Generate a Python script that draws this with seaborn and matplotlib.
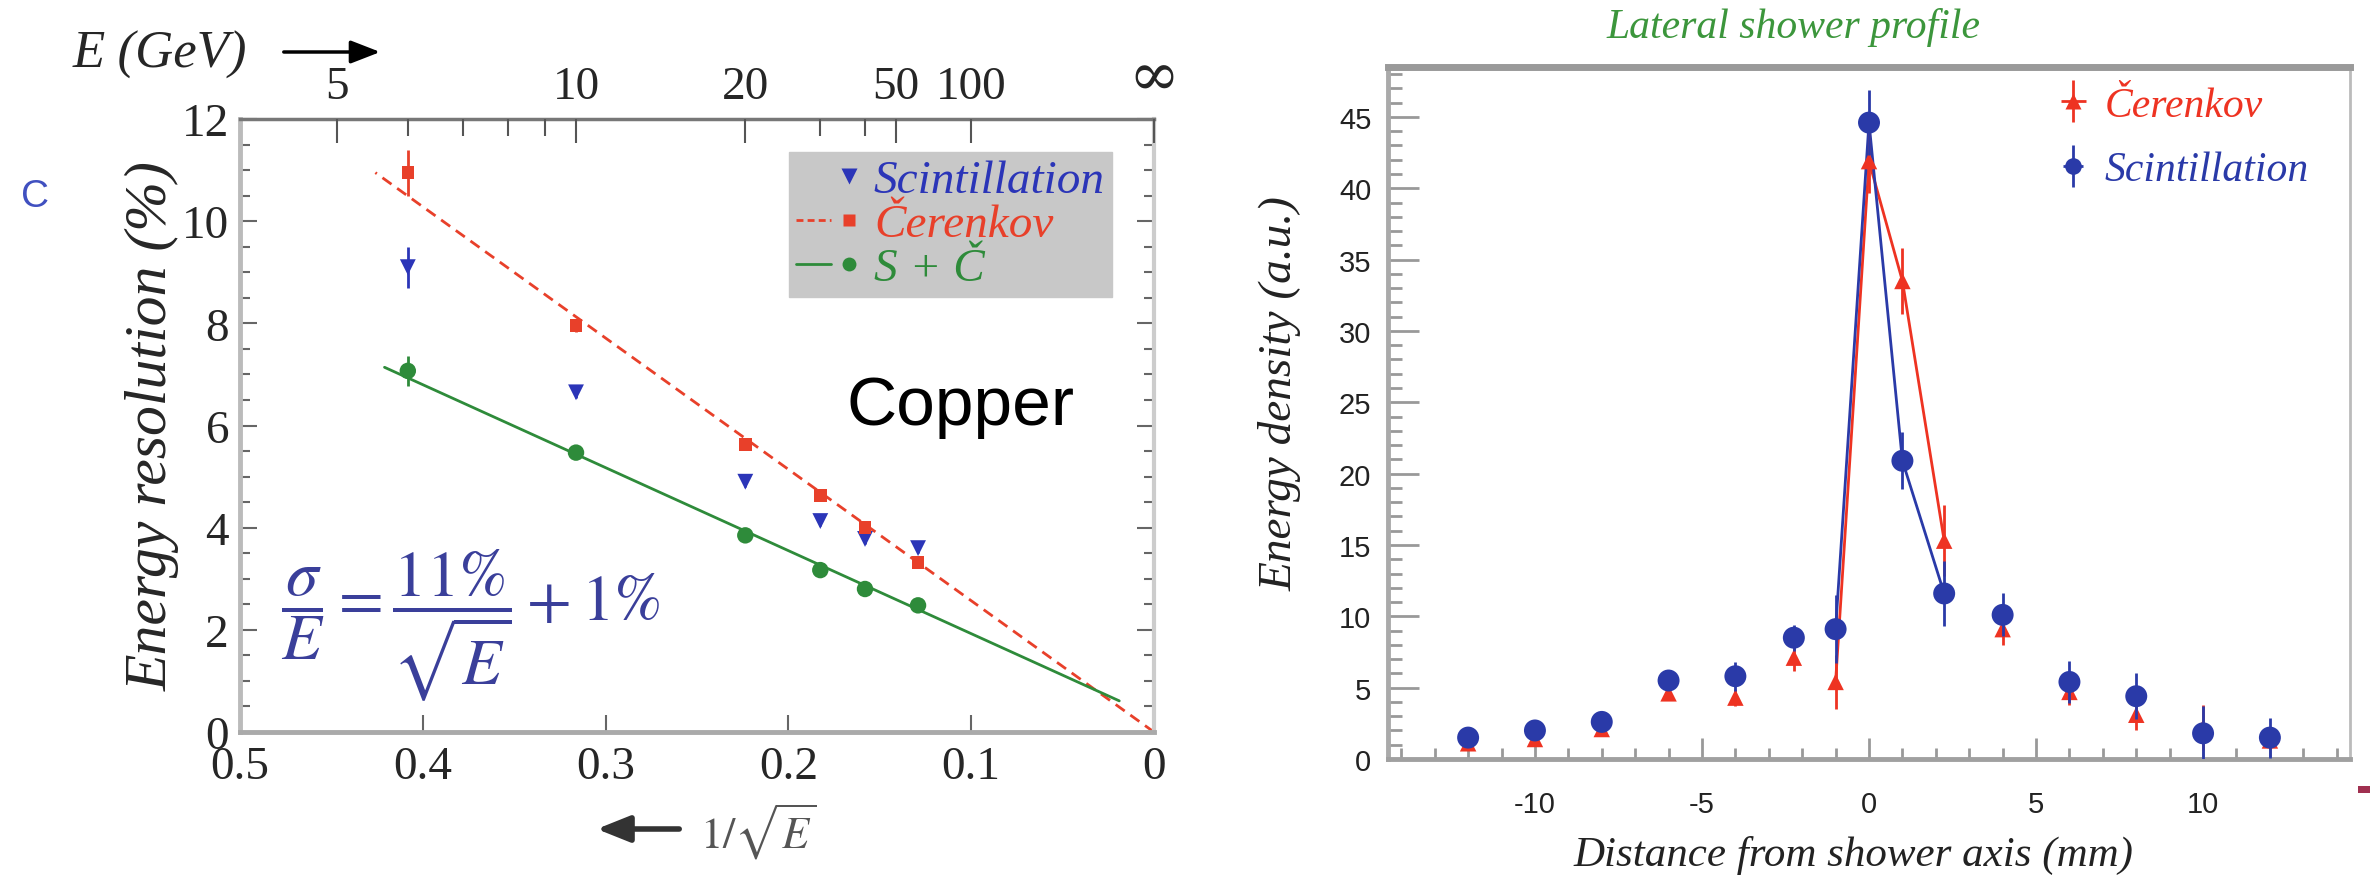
import numpy as np
import pandas as pd
import matplotlib
matplotlib.use("Agg")
import matplotlib.pyplot as plt
import seaborn as sns
from matplotlib.lines import Line2D
from matplotlib.legend_handler import HandlerTuple
from matplotlib.patches import FancyArrowPatch, Rectangle
from matplotlib.ticker import MultipleLocator, FixedLocator
from matplotlib.font_manager import FontProperties

# ---------------- energy resolution vs. beam energy (copper) ----------------
beam_energy = [6, 10, 20, 30, 40, 60]                 # GeV
scint_res = [9.1, 6.65, 4.9, 4.13, 3.78, 3.6]          # %
scint_err = [0.4, 0.12, 0.1, 0.1, 0.1, 0.1]
cer_res = [10.95, 7.96, 5.63, 4.63, 4.0, 3.32]
cer_err = [0.45, 0.12, 0.1, 0.1, 0.1, 0.1]
comb_res = [7.07, 5.47, 3.85, 3.17, 2.8, 2.48]
comb_err = [0.3, 0.1, 0.1, 0.1, 0.1, 0.1]

# straight-line fits versus 1/sqrt(E): end points
cer_fit_x = [0.426, 0.0]
cer_fit_y = [10.95, 0.0]
comb_fit_x = [0.421, 0.019]
comb_fit_y = [7.14, 0.61]

inv_sqrt_ticks = [0.5, 0.4, 0.3, 0.2, 0.1, 0.0]
inv_sqrt_labels = ["0.5", "0.4", "0.3", "0.2", "0.1", "0"]
top_energies = [5, 10, 20, 50, 100]
top_labels = ["5", "10", "20", "50", "100", "\u221e"]
top_minor_energies = [6, 7, 8, 9, 30, 40]

# ---------------- lateral shower profile ----------------
distance = [-12, -10, -8, -6, -4, -2.25, -1, 0, 1, 2.25, 4, 6, 8, 10, 12]   # mm
scint_density = [1.5, 2.0, 2.6, 5.5, 5.8, 8.5, 9.1, 44.6, 20.9, 11.6, 10.1, 5.4, 4.4, 1.8, 1.5]
scint_density_err = [0.5, 0.5, 0.5, 0.6, 1.0, 0.9, 2.4, 2.3, 2.0, 2.3, 1.5, 1.5, 1.6, 1.9, 1.4]
cer_density = [1.1, 1.4, 2.1, 4.6, 4.3, 7.1, 5.4, 41.9, 33.5, 15.3, 9.1, 4.7, 3.1, 2.2, 1.3]
cer_density_err = [0.4, 0.4, 0.4, 0.5, 0.6, 0.9, 1.9, 2.2, 2.3, 2.5, 1.1, 0.9, 1.1, 1.6, 0.6]
core_range = (-1, 2.25)   # points joined by a line around the shower axis

RED = "#e8402a"
BLUE = "#2b35b8"
GREEN = "#2e8b3a"
NAVY = "#3a3f9a"
RED2 = "#ee3322"
BLUE2 = "#2a3aa8"

sns.set_theme(style="white")
plt.rcParams["font.family"] = ["Liberation Serif", "DejaVu Serif", "DejaVu Sans"]
plt.rcParams["mathtext.fontset"] = "stix"
plt.rcParams["axes.unicode_minus"] = False

serif_it = dict(family=["Liberation Serif", "DejaVu Serif"], style="italic")

fig = plt.figure(figsize=(23.75, 8.78), dpi=100)
ax1 = fig.add_axes([0.1011, 0.1651, 0.3848, 0.6982])
ax2 = fig.add_axes([0.5844, 0.1344, 0.4051, 0.7882])

# ======================= left panel =======================
res = pd.DataFrame({
    "x": 1.0 / np.sqrt(np.array(beam_energy, dtype=float)),
    "scint": scint_res, "scint_err": scint_err,
    "cer": cer_res, "cer_err": cer_err,
    "comb": comb_res, "comb_err": comb_err,
})

sns.lineplot(x=cer_fit_x, y=cer_fit_y, ax=ax1, color=RED, lw=2, linestyle=(0, (4, 2.5)))
sns.lineplot(x=comb_fit_x, y=comb_fit_y, ax=ax1, color=GREEN, lw=2)

for col, color in (("scint", BLUE), ("cer", RED), ("comb", GREEN)):
    ax1.errorbar(res["x"], res[col], yerr=res[col + "_err"], fmt="none",
                 ecolor=color, elinewidth=2, capsize=0, zorder=3)
sns.scatterplot(data=res, x="x", y="scint", marker="v", s=130, color=BLUE,
                edgecolor="none", ax=ax1, zorder=4)
sns.scatterplot(data=res, x="x", y="cer", marker="s", s=80, color=RED,
                edgecolor="none", ax=ax1, zorder=4)
sns.scatterplot(data=res, x="x", y="comb", marker="o", s=140, color=GREEN,
                edgecolor="none", ax=ax1, zorder=4)

ax1.set_xlim(0.5, 0.0)
ax1.set_ylim(0, 12)
ax1.set_xlabel("")
ax1.set_ylabel("Energy resolution (%)", fontsize=43, **serif_it)
ax1.yaxis.set_label_coords(-0.066, 0.5)
ax1.xaxis.set_major_locator(FixedLocator(inv_sqrt_ticks))
ax1.set_xticklabels(inv_sqrt_labels)
ax1.yaxis.set_major_locator(MultipleLocator(2))
ax1.yaxis.set_minor_locator(MultipleLocator(0.5))
ax1.tick_params(which="both", direction="in", left=True, right=True, bottom=True, top=False,
                color="#666666", width=1.5, labelsize=34)
ax1.tick_params(axis="y", which="major", length=12, pad=8)
ax1.tick_params(axis="y", which="minor", length=7)
ax1.tick_params(axis="x", which="major", length=12, pad=10)
for side, (c, w) in {"left": ("#bbbbbb", 3.5), "bottom": ("#aaaaaa", 3.5),
                     "top": ("#777777", 2.5), "right": ("#cccccc", 3)}.items():
    ax1.spines[side].set_color(c)
    ax1.spines[side].set_linewidth(w)
    ax1.spines[side].set_visible(True)

# top axis in beam energy
ax_top = ax1.twiny()
ax_top.set_xlim(ax1.get_xlim())
top_pos = list(1.0 / np.sqrt(np.array(top_energies, dtype=float))) + [0.0]
ax_top.xaxis.set_major_locator(FixedLocator(top_pos))
ax_top.set_xticklabels(top_labels)
ax_top.xaxis.set_minor_locator(FixedLocator(1.0 / np.sqrt(np.array(top_minor_energies, dtype=float))))
ax_top.tick_params(axis="x", which="both", direction="in", top=True, bottom=False,
                   color="#555555", width=1.5, labelsize=34, pad=8)
ax_top.tick_params(axis="x", which="major", length=17)
ax_top.tick_params(axis="x", which="minor", length=12)
for lab in ax_top.get_xticklabels():
    if lab.get_text() == "\u221e":
        lab.set_fontsize(44)
        lab.set_family(["DejaVu Serif", "DejaVu Sans"])
for side in ax_top.spines:
    ax_top.spines[side].set_visible(False)

# legend in a grey box
h_scint = (Line2D([], [], ls="none"),
           Line2D([], [], ls="none", marker="v", ms=11, color=BLUE, mec="none"))
h_cer = (Line2D([], [], ls=(0, (2.5, 1.5)), lw=2, color=RED),
         Line2D([], [], ls="none", marker="s", ms=8, color=RED, mec="none"))
h_comb = (Line2D([], [], ls="-", lw=2, color=GREEN),
          Line2D([], [], ls="none", marker="o", ms=10, color=GREEN, mec="none"))
ax1.legend([h_scint, h_cer, h_comb], ["Scintillation", "\u010cerenkov", "S + \u010c"],
           handler_map={tuple: HandlerTuple(ndivide=None, pad=0)},
           loc="upper right", bbox_to_anchor=(0.954, 0.946), borderaxespad=0,
           frameon=True, fancybox=False, facecolor="#c8c8c8", edgecolor="#c8c8c8",
           framealpha=1, prop=FontProperties(family="Liberation Serif", style="italic", size=34),
           labelcolor=[BLUE, RED, GREEN], handlelength=1.5, handletextpad=0.15,
           borderpad=0.15, labelspacing=0.02)

ax1.text(0.788, 0.532, "Copper", transform=ax1.transAxes, ha="center", va="center",
         fontsize=50, family=["Liberation Sans", "DejaVu Sans"], color="black")
ax1.text(0.045, 0.176, r"$\dfrac{\sigma}{E} = \dfrac{11\%}{\sqrt{E}} + 1\%$",
         transform=ax1.transAxes, ha="left", va="center", fontsize=47, color=NAVY)

# axis annotations around the left panel
fig.text(73 / 2375, 1 - 55 / 878, "E (GeV)", ha="left", va="center", fontsize=38, **serif_it)
fig.add_artist(FancyArrowPatch((281 / 2375, 1 - 53 / 878), (383 / 2375, 1 - 53 / 878),
                               transform=fig.transFigure, arrowstyle="-|>,head_length=18,head_width=7",
                               lw=2.5, color="black", mutation_scale=1))
fig.add_artist(FancyArrowPatch((682 / 2375, 1 - 830 / 878), (594 / 2375, 1 - 830 / 878),
                               transform=fig.transFigure, arrowstyle="-|>,head_length=20,head_width=8",
                               lw=4, color="#333333", mutation_scale=1))
fig.text(700 / 2375, 1 - 832 / 878, r"$1/\sqrt{E}$", ha="left", va="center",
         fontsize=32, color="#555555")
fig.text(35 / 2375, 1 - 197 / 878, "C", ha="center", va="center", fontsize=28,
         family=["Liberation Sans", "DejaVu Sans"], color="#4050c0")

# ======================= right panel =======================
prof = pd.DataFrame({
    "d": distance,
    "scint": scint_density, "scint_err": scint_density_err,
    "cer": cer_density, "cer_err": cer_density_err,
})
core = prof[(prof["d"] >= core_range[0]) & (prof["d"] <= core_range[1])]

sns.lineplot(data=core, x="d", y="cer", ax=ax2, color=RED2, lw=2, sort=False)
sns.lineplot(data=core, x="d", y="scint", ax=ax2, color=BLUE2, lw=2, sort=False)
ax2.errorbar(prof["d"], prof["cer"], yerr=prof["cer_err"], fmt="none",
             ecolor=RED2, elinewidth=2, capsize=0, zorder=3)
sns.scatterplot(data=prof, x="d", y="cer", marker="^", s=140, color=RED2,
                edgecolor="none", ax=ax2, zorder=4)
ax2.errorbar(prof["d"], prof["scint"], yerr=prof["scint_err"], fmt="none",
             ecolor=BLUE2, elinewidth=2, capsize=0, zorder=5)
sns.scatterplot(data=prof, x="d", y="scint", marker="o", s=250, color=BLUE2,
                edgecolor="none", ax=ax2, zorder=6)

ax2.set_xlim(-14.4, 14.4)
ax2.set_ylim(0, 48.5)
ax2.xaxis.set_major_locator(MultipleLocator(5))
ax2.xaxis.set_minor_locator(MultipleLocator(1))
ax2.yaxis.set_major_locator(MultipleLocator(5))
ax2.yaxis.set_minor_locator(MultipleLocator(1))
ax2.tick_params(which="both", direction="in", left=True, bottom=True, right=False, top=False,
                color="#999999", width=2, labelsize=21, labelcolor="#222222")
ax2.tick_params(axis="y", which="major", length=22, pad=12)
ax2.tick_params(axis="y", which="minor", length=10)
ax2.tick_params(axis="x", which="major", length=15, pad=22)
ax2.tick_params(axis="x", which="minor", length=8)
for lab in ax2.get_xticklabels() + ax2.get_yticklabels():
    lab.set_family(["Liberation Sans Narrow", "Liberation Sans", "DejaVu Sans"])
for side, (c, w) in {"left": ("#aaaaaa", 3.5), "bottom": ("#a0a0a0", 3.5),
                     "top": ("#9a9a9a", 5), "right": ("#bbbbbb", 2)}.items():
    ax2.spines[side].set_color(c)
    ax2.spines[side].set_linewidth(w)
    ax2.spines[side].set_visible(True)

ax2.set_xlabel("Distance from shower axis (mm)", fontsize=31, color="#222222", **serif_it)
ax2.xaxis.set_label_coords(0.484, -0.11)
ax2.set_ylabel("Energy density (a.u.)", fontsize=34, color="#222222", **serif_it)
ax2.yaxis.set_label_coords(-0.09, 0.53)
ax2.text(0.422, 1.059, "Lateral shower profile", transform=ax2.transAxes, ha="center",
         va="center", fontsize=30, color="#3c963c", **serif_it)

h_cer2 = (Line2D([], [], ls="none", marker="^", ms=11, color=RED2, mec="none"),
          Line2D([], [], ls="none", marker="|", ms=30, mew=2, color=RED2),
          Line2D([], [], ls="none", marker="_", ms=18, mew=2, color=RED2))
h_scint2 = (Line2D([], [], ls="none", marker="o", ms=12, color=BLUE2, mec="none"),
            Line2D([], [], ls="none", marker="|", ms=30, mew=2, color=BLUE2),
            Line2D([], [], ls="none", marker="_", ms=14, mew=2, color=BLUE2))
ax2.legend([h_cer2, h_scint2], ["\u010cerenkov", "Scintillation"],
           handler_map={tuple: HandlerTuple(ndivide=1, pad=0)},
           loc="upper left", bbox_to_anchor=(0.695, 0.972), borderaxespad=0, borderpad=0,
           frameon=False, prop=FontProperties(family="Liberation Serif", style="italic", size=30),
           labelcolor=[RED2, BLUE2], handlelength=0.8, handletextpad=0.35, labelspacing=0.62)

# small mark beside the lower right corner
fig.add_artist(Rectangle((2358 / 2375, 1 - 794 / 878), 12 / 2375, 7 / 878,
                         transform=fig.transFigure, color="#a03050", lw=0))

fig.savefig("out.png", dpi=100)
